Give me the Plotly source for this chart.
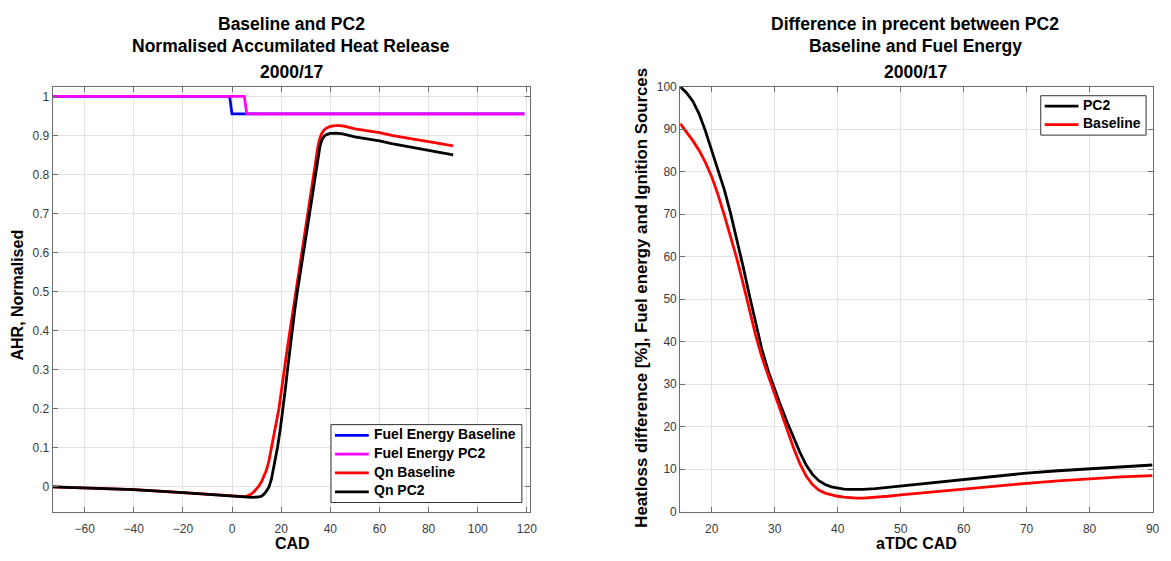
import plotly.graph_objects as go

# ---- Left panel: normalised accumulated heat release ----
fuel_base_cad = [-73, -1, 0, 119]
fuel_base_val = [1.0, 1.0, 0.955, 0.955]

fuel_pc2_cad = [-73, 5, 6, 119]
fuel_pc2_val = [1.0, 1.0, 0.955, 0.955]

qn_base_cad = [-73, -60, -40, -20, -10, 0, 3, 5, 6, 7, 8, 9, 10, 10.8, 12, 13, 14, 15,
               16.1, 17.5, 19.1, 20.2, 21.2, 22.4, 23.6, 24.8, 26.0, 27.2, 28.5, 29.7,
               30.9, 32.0, 33.1, 34.2, 35.0, 35.6, 36.5, 37.5, 38.5, 40, 42, 44, 46,
               50, 55, 60, 65, 70, 75, 80, 85, 90]
qn_base_val = [-0.001, -0.003, -0.008, -0.016, -0.020, -0.024, -0.026, -0.026, -0.025,
               -0.023, -0.019, -0.013, -0.006, 0.0, 0.012, 0.025, 0.042, 0.065, 0.1,
               0.145, 0.2, 0.25, 0.3, 0.35, 0.4, 0.45, 0.5, 0.55, 0.6, 0.65, 0.7, 0.75,
               0.8, 0.845, 0.873, 0.89, 0.905, 0.914, 0.919, 0.923, 0.925, 0.925, 0.923,
               0.917, 0.912, 0.907, 0.900, 0.894, 0.889, 0.884, 0.878, 0.873]

qn_pc2_cad = [-73, -60, -40, -20, -10, 0, 5, 8, 10, 11, 12, 13, 14, 15, 16, 17, 18,
              18.5, 19.7, 20.8, 21.7, 22.6, 23.5, 24.5, 25.5, 26.6, 27.9, 29.2, 30.4,
              31.6, 32.8, 34.0, 35.0, 35.8, 36.6, 37.5, 38.5, 40, 42.3, 45, 50, 55, 60,
              65, 70, 75, 80, 85, 90]
qn_pc2_val = [-0.001, -0.003, -0.008, -0.016, -0.021, -0.025, -0.027, -0.028, -0.028,
              -0.027, -0.025, -0.020, -0.012, -0.002, 0.018, 0.048, 0.082, 0.1, 0.15,
              0.2, 0.25, 0.3, 0.35, 0.4, 0.45, 0.5, 0.55, 0.6, 0.65, 0.7, 0.75, 0.8,
              0.842, 0.872, 0.889, 0.898, 0.902, 0.905, 0.906, 0.904, 0.896, 0.891,
              0.886, 0.879, 0.873, 0.867, 0.861, 0.855, 0.85]

# ---- Right panel: heat-loss difference in percent ----
atdc = [15, 16, 17, 18, 19, 20, 21, 22, 23, 24, 25, 26, 27, 28, 29, 30, 31, 32, 33,
        34, 35, 36, 37, 38, 39, 40, 41, 42, 43, 44, 46, 48, 50, 55, 60, 65, 70, 75,
        80, 85, 90]
pc2_diff = [100, 98.6, 96.6, 93.6, 89.6, 85.0, 80.6, 75.8, 70.2, 64.2, 57.6, 50.8,
            44.0, 38.0, 33.0, 28.8, 24.8, 21.0, 17.4, 14.0, 11.0, 8.8, 7.3, 6.4, 5.85,
            5.55, 5.35, 5.25, 5.22, 5.25, 5.45, 5.75, 6.1, 6.9, 7.7, 8.45, 9.1, 9.65,
            10.15, 10.6, 11.0]
base_diff = [91.3, 89.4, 87.3, 85.0, 82.2, 78.8, 74.6, 69.8, 64.6, 59.5, 53.6, 47.6,
             41.4, 36.2, 32.0, 27.8, 23.4, 19.0, 15.0, 11.3, 8.4, 6.4, 5.1, 4.4, 3.95,
             3.65, 3.45, 3.3, 3.22, 3.2, 3.35, 3.65, 4.0, 4.7, 5.4, 6.05, 6.7, 7.25,
             7.8, 8.2, 8.5]

left_ticks_x = [-60, -40, -20, 0, 20, 40, 60, 80, 100, 120]
left_ticks_y = [0, 0.1, 0.2, 0.3, 0.4, 0.5, 0.6, 0.7, 0.8, 0.9, 1]
left_ticktext_y = ["0", "0.1", "0.2", "0.3", "0.4", "0.5", "0.6", "0.7", "0.8", "0.9", "1"]
right_ticks_x = [20, 30, 40, 50, 60, 70, 80, 90]
right_ticks_y = [0, 10, 20, 30, 40, 50, 60, 70, 80, 90, 100]

left_names = ["Fuel Energy Baseline", "Fuel Energy PC2", "Qn Baseline", "Qn PC2"]
left_colors = ["#0000ff", "#ff00ff", "#ff0000", "#000000"]
right_names = ["PC2", "Baseline"]
right_colors = ["#000000", "#ff0000"]

W, H = 1171, 561
FONT = "Liberation Sans"
AX = "#6e6e6e"
TICKFONT = dict(family=FONT, size=12, color="#3a3a3a")
LW = 2.8

fig = go.Figure()

left_series = [(fuel_base_cad, fuel_base_val), (fuel_pc2_cad, fuel_pc2_val),
               (qn_base_cad, qn_base_val), (qn_pc2_cad, qn_pc2_val)]
for (xs, ys), name, col in zip(left_series, left_names, left_colors):
    fig.add_trace(go.Scatter(x=xs, y=ys, name=name, mode="lines", xaxis="x", yaxis="y",
                             line=dict(color=col, width=LW), showlegend=False))

right_series = [(atdc, pc2_diff), (atdc, base_diff)]
for (xs, ys), name, col in zip(right_series, right_names, right_colors):
    fig.add_trace(go.Scatter(x=xs, y=ys, name=name, mode="lines", xaxis="x2", yaxis="y2",
                             line=dict(color=col, width=LW), showlegend=False))


def px_x(v):
    return v / W


def px_y(v):
    return 1 - v / H


y_dom = [px_y(517.7), px_y(81.7)]

common = dict(
    showline=True, linecolor=AX, linewidth=1, mirror="ticks",
    ticks="inside", ticklen=5, tickcolor=AX, tickwidth=1,
    showgrid=True, gridcolor="#e2e2e2", gridwidth=1, zeroline=False,
    tickfont=TICKFONT,
)

fig.update_layout(
    width=W, height=H,
    margin=dict(l=0, r=0, t=0, b=0),
    paper_bgcolor="white", plot_bgcolor="white",
    showlegend=False,
    xaxis=dict(domain=[px_x(53), px_x(533)], range=[-73, 121.2],
               tickvals=left_ticks_x, anchor="y", ticklabelstandoff=6, **common),
    yaxis=dict(domain=y_dom, range=[-0.065, 1.025], tickvals=left_ticks_y,
               ticktext=left_ticktext_y, anchor="x", **common),
    xaxis2=dict(domain=[px_x(684.3), px_x(1159.5)], range=[15, 90],
                tickvals=right_ticks_x, anchor="y2", ticklabelstandoff=6, **common),
    yaxis2=dict(domain=y_dom, range=[0, 100], tickvals=right_ticks_y,
                anchor="x2", **common),
)


def text(s, x, y, size, angle=0, xanchor="center"):
    fig.add_annotation(
        text=s, x=px_x(x), y=px_y(y), xref="paper", yref="paper",
        xanchor=xanchor, yanchor="middle", showarrow=False, textangle=angle,
        font=dict(family=FONT, size=size, color="#000000", weight="bold"),
    )


def legend_box(names, colors, left, right, top, row0, step):
    n = len(names)
    bottom = row0 + (n - 1) * step + (row0 - top)
    fig.add_shape(type="rect", xref="paper", yref="paper",
                  x0=px_x(left), x1=px_x(right), y0=px_y(bottom), y1=px_y(top),
                  line=dict(color="#333333", width=1), fillcolor="white", layer="above")
    for i, (nm, col) in enumerate(zip(names, colors)):
        yy = row0 + i * step
        fig.add_shape(type="line", xref="paper", yref="paper",
                      x0=px_x(left + 4), x1=px_x(left + 38), y0=px_y(yy), y1=px_y(yy),
                      line=dict(color=col, width=LW), layer="above")
        text(nm, left + 41, yy - 1.5, 14, xanchor="left")


legend_box(left_names, left_colors, 333, 525, 428.3, 439.3, 19.3)
legend_box(right_names, right_colors, 1047, 1153, 91, 101.7, 19.0)

# panel titles
for s, yy in [("Baseline and PC2", 17.5), ("Normalised Accumilated Heat Release", 40.2),
              ("2000/17", 66.3)]:
    text(s, 293, yy, 17.5)
for s, yy in [("Difference in precent between PC2", 17.5),
              ("Baseline and Fuel Energy", 40.2), ("2000/17", 66.3)]:
    text(s, 921, yy, 17.5)

# axis labels
text("CAD", 294.5, 550, 16)
text("aTDC CAD", 922.5, 550, 16)
text("AHR, Normalised", 18, 295, 16, -90)
text("Heatloss difference [%], Fuel energy and Ignition Sources", 645, 298, 16.8, -90)

fig.write_html("out.html")
